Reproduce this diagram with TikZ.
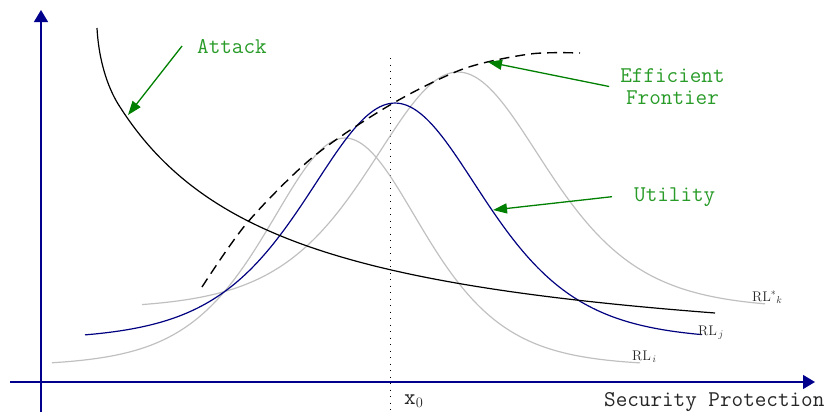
\documentclass[tikz,border=0pt]{standalone}
\usepackage{fontspec}
\usetikzlibrary{arrows.meta}
\definecolor{axisblue}{RGB}{0,0,140}
\definecolor{curveblue}{RGB}{0,0,128}
\definecolor{rlgray}{RGB}{192,192,192}
\definecolor{arrowgreen}{RGB}{0,128,0}
\definecolor{textgreen}{RGB}{40,155,40}
\begin{document}
\begin{tikzpicture}[x=1pt,y=-1pt,
  axis/.style={draw=axisblue, line width=1.4pt, -{Triangle[length=12pt,width=14pt]}},
  rl/.style={draw=rlgray, line width=1.2pt},
  utilcurve/.style={draw=curveblue, line width=1.2pt},
  attackcurve/.style={draw=black, line width=1.2pt},
  frontier/.style={draw=black, line width=1.4pt, dash pattern=on 10pt off 6pt},
  xzero/.style={draw=black, line width=1pt, dash pattern=on 1pt off 5.5pt},
  garrow/.style={draw=arrowgreen, line width=1.3pt, -{Triangle[length=14pt,width=10pt]}},
  lbl/.style={font=\fontsize{22.5}{21.5}\selectfont\ttfamily, text=textgreen, inner sep=0pt},
  axlbl/.style={font=\fontsize{22.5}{24}\selectfont\ttfamily, text=black!85, inner sep=0pt},
  rllbl/.style={font=\fontsize{14}{16}\selectfont, text=black!85, inner sep=0pt}
]
\useasboundingbox (0,0) rectangle (831,413);

% axes
\coordinate (yb) at (41,412);
\coordinate (yt) at (41,10);
\coordinate (xl) at (10,382);
\coordinate (xr) at (815,382);
\draw[axis] (yb) -- (yt);
\draw[axis] (xl) -- (xr);

% x0 dotted line
\coordinate (dtop) at (390,58);
\coordinate (dbot) at (390,413);
\draw[xzero] (dtop) -- (dbot);

% RL curves
\draw[rl] plot[domain=52:640, samples=200] (\x, {366-228*4/(exp((\x-345)/104)+exp(-(\x-345)/104))^2});
\draw[rl] plot[domain=142:765, samples=200] (\x, {309-237*4/(exp((\x-458)/118)+exp(-(\x-458)/118))^2});
\draw[utilcurve] plot[domain=85:702, samples=200] (\x, {340-237*4/(exp((\x-395)/119)+exp(-(\x-395)/119))^2});

% attack curve
\coordinate (atkstart) at (97,28);
\coordinate (atkjoin) at (120,107);
\draw[attackcurve] (atkstart) .. controls (99,65) and (110,92) .. (atkjoin)
  -- plot[domain=120:715, samples=150] (\x, {371.5-447/((\x+49)/100)});

% efficient frontier
\draw[frontier] plot[smooth] coordinates {(202,287) (247,223) (313,157) (390,105) (463,69) (530,54) (580,53)};

% labels
\node[lbl, anchor=base west] (attack) at (197,53) {Attack};
\node[lbl, align=center] (eff) at (672.5,86.5) {Efficient\\Frontier};
\node[lbl, anchor=base west] (util) at (634,201) {Utility};
\node[axlbl, anchor=base west] (sec) at (604,406) {Security Protection};
\node[axlbl, anchor=base west] (xo) at (404,404) {x$_0$};
\node[rllbl, anchor=base west] (rli) at (632,360) {RL$_{\,i}$};
\node[rllbl, anchor=base west] (rlj) at (698,335) {RL$_{\,j}$};
\node[rllbl, anchor=base west] (rlk) at (752,301) {RL$^{*}{}_{k}$};

% green arrows
\coordinate (atktip) at (128,115);
\coordinate (efftip) at (488,62);
\coordinate (utiltip) at (493,210);
\draw[garrow] ([xshift=-15pt]attack.west) -- (atktip);
\draw[garrow] ([xshift=-11pt]eff.west) -- (efftip);
\draw[garrow] ([xshift=-22pt]util.west) -- (utiltip);
\end{tikzpicture}
\end{document}
